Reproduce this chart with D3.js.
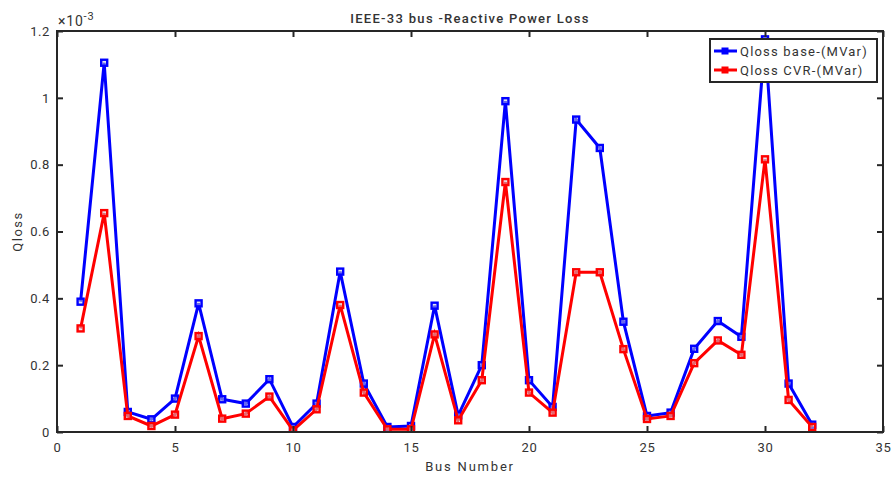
<!DOCTYPE html>
<html>
<head>
<meta charset="utf-8">
<script src="https://cdn.jsdelivr.net/npm/d3@7"></script>
<style>
  body { margin: 0; background: #fff; }
  text { font-family: Roboto, "Liberation Sans", sans-serif; fill: #333; }
</style>
</head>
<body>
<svg id="chart" width="895" height="477"></svg>
<script>
// bus numbers 1..32
const buses = [1,2,3,4,5,6,7,8,9,10,11,12,13,14,15,16,17,18,19,20,21,22,23,24,25,26,27,28,29,30,31,32];
// values in units of 1e-3 MVar
const qlossBase = [0.39,1.105,0.06,0.038,0.10,0.385,0.098,0.085,0.158,0.015,0.085,0.48,0.145,0.015,0.018,0.378,
                   0.05,0.2,0.99,0.155,0.075,0.935,0.85,0.33,0.048,0.058,0.249,0.332,0.285,1.175,0.145,0.022];
const qlossCVR  = [0.31,0.655,0.048,0.018,0.052,0.287,0.040,0.055,0.106,0.005,0.068,0.38,0.118,0.008,0.008,0.292,
                   0.035,0.155,0.748,0.118,0.058,0.478,0.478,0.248,0.039,0.048,0.206,0.274,0.231,0.816,0.096,0.015];
const xTicks = [0,5,10,15,20,25,30,35];
const yTicks = [0,0.2,0.4,0.6,0.8,1,1.2];

const series = [
  { name: "Qloss base-(MVar)", color: "#0000ff", values: qlossBase },
  { name: "Qloss CVR-(MVar)",  color: "#ff0000", values: qlossCVR }
];

const svg = d3.select("#chart");
const m = { left: 57, right: 883, top: 31, bottom: 432 };

const x = d3.scaleLinear().domain([0, 35]).range([m.left, m.right]);
const y = d3.scaleLinear().domain([0, 1.2]).range([m.bottom, m.top]);

// clip for data
svg.append("clipPath").attr("id", "clip")
  .append("rect").attr("x", m.left).attr("y", m.top)
  .attr("width", m.right - m.left).attr("height", m.bottom - m.top);

const plot = svg.append("g").attr("clip-path", "url(#clip)");

const line = d3.line().x((d, i) => x(buses[i])).y(d => y(d));

series.forEach(s => {
  plot.append("path")
    .attr("d", line(s.values))
    .attr("fill", "none")
    .attr("stroke", s.color)
    .attr("stroke-width", 3);

  plot.selectAll(null).data(s.values).enter()
    .append("rect")
    .attr("x", (d, i) => x(buses[i]) - 3)
    .attr("y", d => y(d) - 3)
    .attr("width", 6).attr("height", 6)
    .attr("fill", "#ccd")
    .attr("fill-opacity", 0.5)
    .attr("stroke", s.color)
    .attr("stroke-width", 2.4);
});

// axes (ticks inward)
const axisColor = "#262626";
svg.append("g").attr("transform", `translate(0,${m.bottom})`)
  .call(d3.axisBottom(x).tickValues(xTicks).tickSizeInner(-6).tickSizeOuter(0).tickPadding(11))
  .call(g => g.select(".domain").remove());
svg.append("g").attr("transform", `translate(0,${m.top})`)
  .call(d3.axisTop(x).tickValues(xTicks).tickSizeInner(-6).tickSizeOuter(0).tickFormat(""))
  .call(g => g.select(".domain").remove());
svg.append("g").attr("transform", `translate(${m.left},0)`)
  .call(d3.axisLeft(y).tickValues(yTicks).tickSizeInner(-6).tickSizeOuter(0).tickPadding(7)
    .tickFormat(d => d3.format("~g")(d)))
  .call(g => g.select(".domain").remove());
svg.append("g").attr("transform", `translate(${m.right},0)`)
  .call(d3.axisRight(y).tickValues(yTicks).tickSizeInner(-6).tickSizeOuter(0).tickFormat(""))
  .call(g => g.select(".domain").remove());

svg.selectAll(".tick line").attr("stroke", axisColor).attr("stroke-width", 2);
svg.selectAll(".tick text").attr("font-size", 13).attr("fill", "#333")
  .style("font-family", "Roboto, sans-serif").style("letter-spacing", "0.6px");

svg.append("rect")
  .attr("x", m.left).attr("y", m.top)
  .attr("width", m.right - m.left).attr("height", m.bottom - m.top)
  .attr("fill", "none").attr("stroke", axisColor).attr("stroke-width", 2);

// labels
svg.append("text").attr("x", (m.left + m.right) / 2).attr("y", 23)
  .attr("text-anchor", "middle").attr("font-size", 13).attr("font-weight", 500)
  .style("letter-spacing", "1.3px")
  .text("IEEE-33 bus -Reactive Power Loss");
svg.append("text").attr("x", (m.left + m.right) / 2).attr("y", 471)
  .attr("text-anchor", "middle").attr("font-size", 13)
  .style("letter-spacing", "1.8px")
  .text("Bus Number");
svg.append("text").attr("transform", `translate(22,${(m.top + m.bottom) / 2}) rotate(-90)`)
  .attr("text-anchor", "middle").attr("font-size", 13)
  .style("letter-spacing", "1.5px")
  .text("Qloss");

const ex = svg.append("text").attr("x", m.left + 1).attr("y", 26).attr("font-size", 14)
  .style("letter-spacing", "0.8px");
ex.append("tspan").text("×10");
ex.append("tspan").attr("dy", -6).attr("font-size", 11).text("-3");

// legend
const lg = svg.append("g").attr("transform", "translate(710,39)");
lg.append("rect").attr("width", 167).attr("height", 43)
  .attr("fill", "#fff").attr("stroke", axisColor).attr("stroke-width", 2);
series.forEach((s, i) => {
  const row = lg.append("g").attr("transform", `translate(0,${12 + i * 19})`);
  row.append("line").attr("x1", 4).attr("x2", 27).attr("stroke", s.color).attr("stroke-width", 3);
  row.append("rect").attr("x", 12).attr("y", -3).attr("width", 6).attr("height", 6)
    .attr("fill", s.color).attr("stroke", s.color).attr("stroke-width", 1);
  row.append("text").attr("x", 30).attr("y", 5).attr("font-size", 13)
    .style("letter-spacing", "1.2px")
    .text(s.name);
});
</script>
</body>
</html>
